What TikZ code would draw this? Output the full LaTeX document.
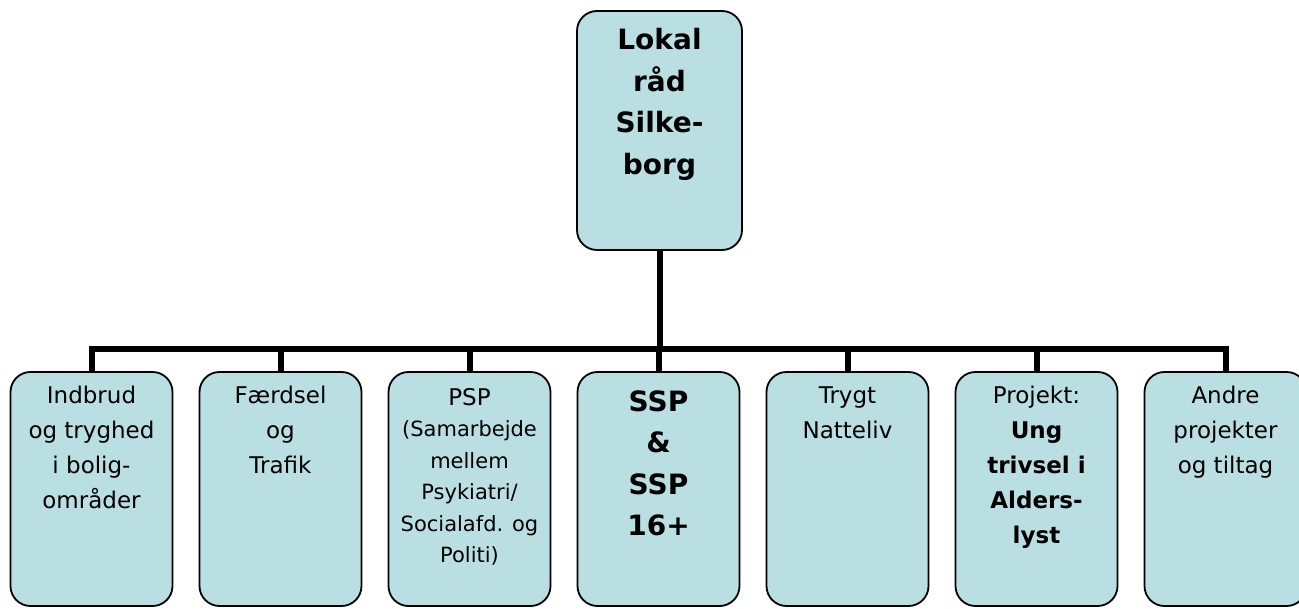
\documentclass[tikz,border=0pt]{standalone}
\usepackage{fontspec}
\setmainfont{DejaVu Sans}
\usetikzlibrary{backgrounds}
\definecolor{boxfill}{RGB}{186,223,227}
\begin{document}
\begin{tikzpicture}[x=1pt,y=1pt,
  box/.style={draw=black, line width=1.8pt, fill=boxfill, rounded corners=20pt,
    minimum width=162pt, minimum height=234pt, inner sep=0pt},
  topbox/.style={box, minimum width=165pt, minimum height=239pt},
  txt/.style={anchor=north, inner sep=0pt, align=center, font=\fontsize{23}{35}\selectfont},
  bigtxt/.style={txt, font=\fontsize{28}{41.5}\selectfont\bfseries},
  smalltxt/.style={txt, font=\fontsize{21}{31.5}\selectfont},
  conn/.style={line width=6pt}]
\useasboundingbox (0,0) rectangle (1299,608);

\node[topbox] (top) at (659.5,477.5) {};
\node[bigtxt] (topT) at ([yshift=-18]top.north) {Lokal\\råd\\Silke-\\borg};

\node[box] (b1) at (91.5,119) {};
\node[box] (b2) at (280.5,119) {};
\node[box] (b3) at (469.5,119) {};
\node[box] (b4) at (658.5,119) {};
\node[box] (b5) at (847.5,119) {};
\node[box] (b6) at (1036.5,119) {};
\node[box] (b7) at (1225.5,119) {};

\node[txt] (t1) at ([yshift=-15]b1.north) {Indbrud\\og tryghed\\i bolig-\\områder};
\node[txt] (t2) at ([yshift=-15]b2.north) {Færdsel\\og\\Trafik};
\node[smalltxt] (t3) at ([yshift=-17]b3.north) {{\fontsize{23}{31.5}\selectfont PSP}\\(Samarbejde\\mellem\\Psykiatri/\\Socialafd. og\\Politi)};
\node[bigtxt] (t4) at ([yshift=-19]b4.north) {SSP\\\&\\SSP\\16+};
\node[txt] (t5) at ([yshift=-15]b5.north) {Trygt\\Natteliv};
\node[txt] (t6) at ([yshift=-15]b6.north) {Projekt:\\\textbf{Ung}\\\textbf{trivsel i}\\\textbf{Alders-}\\\textbf{lyst}};
\node[txt] (t7) at ([yshift=-15]b7.north) {Andre\\projekter\\og tiltag};

\coordinate (bar) at (659.5,259);
\begin{scope}[on background layer]
  \draw[conn] (top.south) -- (bar);
  \draw[conn, line join=miter] (b1.north) -- (b1.north |- bar) -- (b7.north |- bar) -- (b7.north);
  \foreach \b in {b2,b3,b4,b5,b6}
    \draw[conn] (\b.north |- bar) -- (\b.north);
\end{scope}
\end{tikzpicture}
\end{document}
